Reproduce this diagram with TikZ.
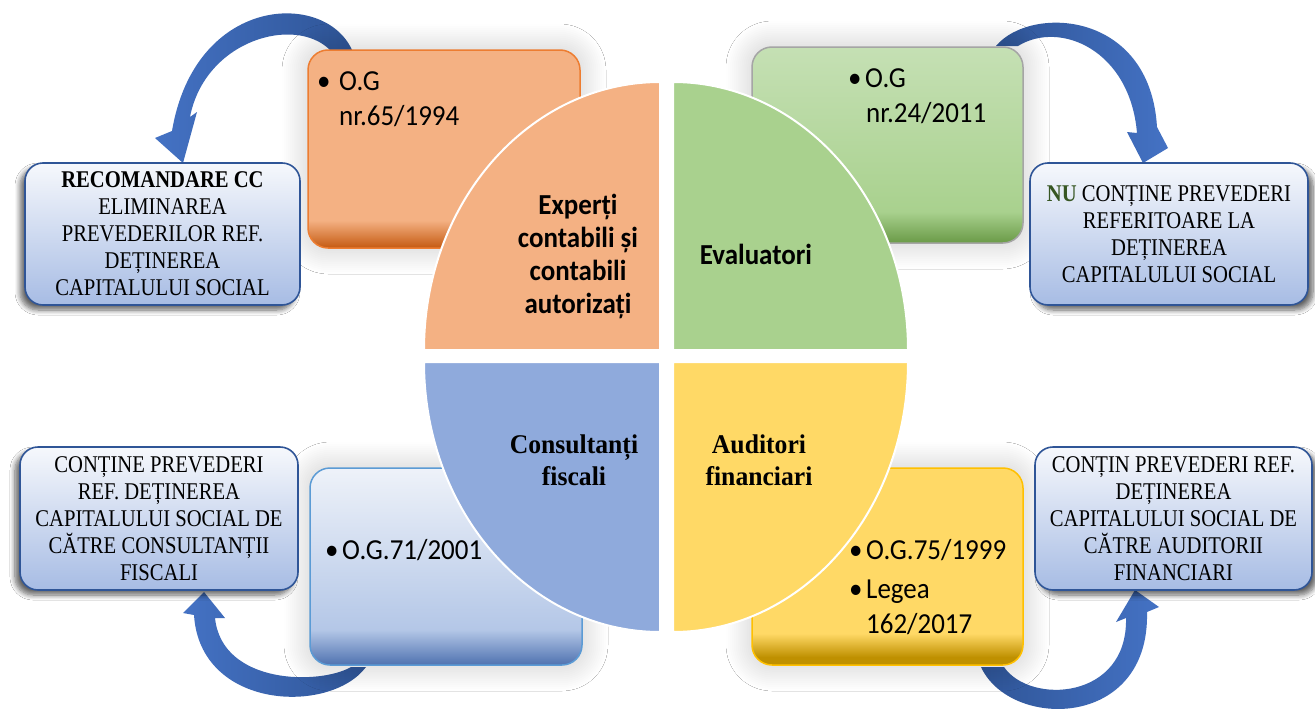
\documentclass[tikz,border=0pt]{standalone}
\usepackage{fontspec}
\setmainfont{Liberation Serif}
\newfontfamily\calfont[FakeStretch=0.93]{Carlito}
\newfontfamily\tnrfont[FakeStretch=0.86]{Liberation Serif}
\newfontfamily\tnbfont[FakeStretch=0.95]{Liberation Serif}
\usetikzlibrary{shadows.blur}
\definecolor{orL}{HTML}{F4B183}\definecolor{orD}{HTML}{C55A11}\definecolor{orB}{HTML}{ED7D31}
\definecolor{grL}{HTML}{C5E0B4}\definecolor{grM}{HTML}{A9D18E}\definecolor{grD}{HTML}{6A9A47}\definecolor{grB}{HTML}{A5A5A5}
\definecolor{blT}{HTML}{EEF2F9}\definecolor{blM}{HTML}{B4C7E7}\definecolor{blD}{HTML}{4F72B0}\definecolor{blB}{HTML}{5B9BD5}
\definecolor{yeL}{HTML}{FFD966}\definecolor{yeD}{HTML}{BF9000}\definecolor{yeB}{HTML}{FFC000}
\definecolor{qO}{HTML}{F4B183}\definecolor{qG}{HTML}{A9D18E}\definecolor{qB}{HTML}{8FAADC}\definecolor{qY}{HTML}{FFD966}
\definecolor{cT}{HTML}{F6F8FC}\definecolor{cBt}{HTML}{A7BCE4}\definecolor{cB}{HTML}{2F5597}
\definecolor{arD}{HTML}{2F5597}\definecolor{arL}{HTML}{4472C4}
\definecolor{nuG}{HTML}{375623}
\pgfdeclareverticalshading{orgshade}{100bp}{color(0bp)=(orD); color(25bp)=(orD); color(32bp)=(orL); color(100bp)=(orL)}
\pgfdeclareverticalshading{grnshade}{100bp}{color(0bp)=(grD); color(25bp)=(grD); color(33bp)=(grM); color(75bp)=(grL); color(100bp)=(grL)}
\pgfdeclareverticalshading{blushade}{100bp}{color(0bp)=(blD); color(25bp)=(blD); color(34bp)=(blM); color(75bp)=(blT); color(100bp)=(blT)}
\pgfdeclareverticalshading{yelshade}{100bp}{color(0bp)=(yeD); color(25bp)=(yeD); color(27bp)=(yeD); color(33bp)=(yeL); color(100bp)=(yeL)}
\begin{document}
\begin{tikzpicture}[x=1pt,y=-1pt,
  bigbox/.style={shade, rounded corners=20pt, minimum width=272pt, minimum height=198pt, line width=1.5pt, inner sep=0pt,
     blur shadow={shadow xshift=0pt, shadow yshift=0pt, shadow blur radius=26pt, shadow blur steps=14, shadow opacity=22}},
  callout/.style={rounded corners=18pt, draw=cB, line width=1.6pt, top color=cT, bottom color=cBt,
     minimum height=142pt, inner sep=0pt, align=center, font=\tnrfont\fontsize{24}{27}\selectfont},
  shadowL/.style={blur shadow={shadow xshift=-5pt, shadow yshift=-5pt, shadow blur radius=5pt, shadow blur steps=8, shadow opacity=60}},
  shadowR/.style={blur shadow={shadow xshift=5pt, shadow yshift=-5pt, shadow blur radius=5pt, shadow blur steps=8, shadow opacity=60}},
  quad/.style={draw=white, line width=2pt},
  boxtxt/.style={anchor=base west, inner sep=0pt, font=\calfont\fontsize{29}{35}\selectfont},
  qtxt/.style={align=center, inner sep=0pt, font=\calfont\bfseries\fontsize{29}{33}\selectfont},
  qtxts/.style={align=center, inner sep=0pt, font=\tnbfont\bfseries\fontsize{27}{32}\selectfont},
  arrowA/.style={left color=arL, right color=arD},
  arrowB/.style={left color=arD, right color=arL}
]
\useasboundingbox (0,0) rectangle (1315,712);
\fill[white] (0,0) rectangle (1315,712);

% curved block arrows (behind boxes)
\shade[arrowA] (352,50) .. controls (325,-10) and (195,-5) .. (172,131) -- (155,138) -- (183,163) -- (197,112) -- (190,117) .. controls (205,40) and (295,15) .. (330,50) -- cycle;
\shade[arrowB] (996,46) .. controls (1030,5) and (1150,10) .. (1157,127) -- (1168,148) -- (1143,163) -- (1127,132) -- (1137,133) .. controls (1130,50) and (1060,20) .. (1018,46) -- cycle;
\shade[arrowA] (366,667) .. controls (330,715) and (200,710) .. (194,615) -- (183,613) -- (204,592) -- (225,618) -- (215,618) .. controls (222,685) and (320,685) .. (351,667) -- cycle;
\shade[arrowB] (981,667) .. controls (1010,730) and (1150,730) .. (1147,612) -- (1159,607) -- (1135,590) -- (1116,622) -- (1126,618) .. controls (1128,700) and (1030,705) .. (1004,667) -- cycle;

% law boxes
\node[bigbox, shading=orgshade, draw=orB] (obox) at (444,149) {};
\node[bigbox, shading=grnshade, draw=grB, minimum height=196pt, minimum width=271pt] (gbox) at (887.5,145) {};
\node[bigbox, shading=blushade, draw=blB, minimum height=197pt] (bbox) at (446,566.5) {};
\node[bigbox, shading=yelshade, draw=yeB, minimum height=197pt, minimum width=271pt] (ybox) at (887.5,566.5) {};

\node[boxtxt] (ob1) at (317,90) {\textbullet};
\node[boxtxt] (ot1) at (339,90) {O.G};
\node[boxtxt] (ot2) at (339,125) {nr.65/1994};
\node[boxtxt] (gb1) at (848,87) {\textbullet};
\node[boxtxt] (gt1) at (865,87) {O.G};
\node[boxtxt] (gt2) at (866,122) {nr.24/2011};
\node[boxtxt] (bb1) at (325,559) {\textbullet};
\node[boxtxt] (bt1) at (342,559) {O.G.71/2001};
\node[boxtxt] (yb1) at (849,559) {\textbullet};
\node[boxtxt] (yt1) at (866,559) {O.G.75/1999};
\node[boxtxt] (yb2) at (849,598) {\textbullet};
\node[boxtxt] (yt2) at (866,598) {Legea};
\node[boxtxt] (yt3) at (866,633) {162/2017};

% quadrants
\fill[qO, quad] (660,350) -- (424,350) arc[start angle=180, end angle=270, x radius=236, y radius=268] -- cycle;
\fill[qG, quad] (673,350) -- (908,350) arc[start angle=0, end angle=-90, x radius=235, y radius=268] -- cycle;
\fill[qB, quad] (660,362) -- (424,362) arc[start angle=180, end angle=90, x radius=236, y radius=270] -- cycle;
\fill[qY, quad] (673,362) -- (908,362) arc[start angle=0, end angle=90, x radius=235, y radius=270] -- cycle;

\node[qtxt] (qo) at (578,256) {Experți\\contabili și\\contabili\\autorizați};
\node[qtxt] (qg) at (756,254) {Evaluatori};
\node[qtxts] (qb) at (574,460) {Consultanți\\fiscali};
\node[qtxts] (qy) at (759,460) {Auditori\\financiari};

% callouts
\node[callout, shadowL, minimum width=275pt] (ctl) at (162.5,234) {{\bfseries RECOMANDARE CC}\\ELIMINAREA\\PREVEDERILOR REF.\\DEȚINEREA\\CAPITALULUI SOCIAL};
\node[callout, shadowR, minimum width=278pt] (ctr) at (1169,234) {{\bfseries\color{nuG}NU} CONȚINE PREVEDERI\\REFERITOARE LA\\DEȚINEREA\\CAPITALULUI SOCIAL};
\node[callout, shadowL, minimum width=278pt, minimum height=143pt] (cbl) at (159,518.5) {CONȚINE PREVEDERI\\REF. DEȚINEREA\\CAPITALULUI SOCIAL DE\\CĂTRE CONSULTANȚII\\FISCALI};
\node[callout, shadowR, minimum width=277pt, minimum height=143pt] (cbr) at (1173.5,518.5) {CONȚIN PREVEDERI REF.\\DEȚINEREA\\CAPITALULUI SOCIAL DE\\CĂTRE AUDITORII\\FINANCIARI};
\end{tikzpicture}
\end{document}
